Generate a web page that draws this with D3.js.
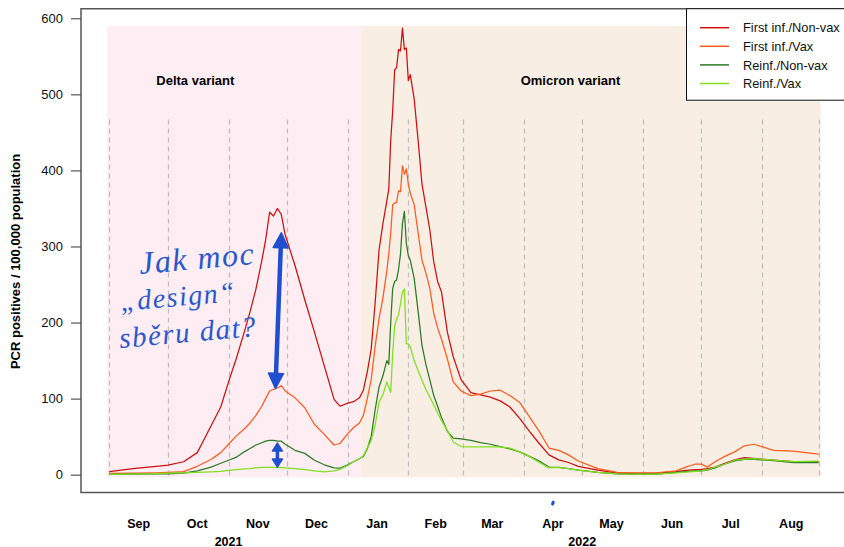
<!DOCTYPE html>
<html>
<head>
<meta charset="utf-8">
<script src="https://cdn.jsdelivr.net/npm/d3@7"></script>
<style>
  body { margin: 0; background: #fff; }
  svg { display: block; }
</style>
</head>
<body>
<svg id="chart" width="844" height="547"></svg>
<script>
// Daily PCR positives per 100,000 population, Sep 2021 – Aug 2022
const dates = [
  "2021-09-01","2021-09-13","2021-09-25","2021-10-01","2021-10-09","2021-10-16","2021-10-23","2021-10-28",
  "2021-11-01","2021-11-05","2021-11-09","2021-11-12","2021-11-15","2021-11-18","2021-11-20","2021-11-22",
  "2021-11-24","2021-11-26","2021-11-28","2021-11-30","2021-12-05","2021-12-10","2021-12-15","2021-12-20",
  "2021-12-25","2021-12-28","2022-01-01","2022-01-04","2022-01-07","2022-01-09","2022-01-11","2022-01-13",
  "2022-01-15","2022-01-17","2022-01-19","2022-01-21","2022-01-22","2022-01-23","2022-01-24","2022-01-25",
  "2022-01-26","2022-01-27","2022-01-28","2022-01-29","2022-01-30","2022-01-31","2022-02-01","2022-02-02",
  "2022-02-04","2022-02-06","2022-02-08","2022-02-10","2022-02-12","2022-02-14","2022-02-16","2022-02-18",
  "2022-02-21","2022-02-24","2022-02-28","2022-03-05","2022-03-10","2022-03-15","2022-03-20","2022-03-25",
  "2022-03-30","2022-04-04","2022-04-09","2022-04-14","2022-04-19","2022-04-24","2022-04-29","2022-05-09",
  "2022-05-19","2022-05-29","2022-06-08","2022-06-18","2022-06-23","2022-06-28","2022-07-01","2022-07-04",
  "2022-07-08","2022-07-13","2022-07-18","2022-07-23","2022-07-28","2022-08-07","2022-08-17","2022-08-30"
];

const firstNonVax = [
  4, 8, 11, 12.6, 17, 29, 64, 89, 122, 153, 187, 214, 244, 281, 309, 345, 340, 350, 342, 315,
  275, 230, 187, 143, 99, 90, 94, 96, 101, 111,
  135, 165, 225, 295, 330, 360, 375, 440, 478, 532,
  535, 559, 557, 587, 559, 561, 518, 526, 494, 440,
  382, 352, 322, 280, 254, 240, 187, 155, 125, 108,
  105, 102, 97, 89, 74, 57, 41, 26, 19.5, 16,
  11, 6, 2, 1.7, 2, 4, 5.5, 6.5, 7, 8,
  10, 15, 19.5, 22.5, 21.5, 19, 17, 17
];

const firstVax = [
  1.7, 2, 2.5, 3, 4, 11, 20, 29, 40, 51, 60, 68, 78, 90, 100, 110, 112, 114, 117, 110,
  101, 88, 66, 53, 39, 41, 54, 62, 68, 78,
  100, 125, 168, 205, 232, 268, 290, 318, 355, 357,
  358, 373, 372, 406, 395, 402, 382, 370, 355, 318,
  282, 265, 245, 212, 193, 178, 152, 122, 110, 104,
  106, 110, 111, 104, 95, 76, 57, 35, 32, 26,
  18, 8, 3, 2.5, 2.5, 5, 10, 14, 14, 10,
  17, 24, 30, 38, 40, 32, 31, 27
];

const reinfNonVax = [
  0.5, 0.8, 1, 1.2, 2, 5, 10, 15, 19, 23, 30, 34.5, 39, 42, 44, 45, 45, 44, 44, 40,
  32, 28, 19, 13, 9, 8.5, 13, 17, 21, 24,
  34, 50, 85, 115, 130, 150, 145, 200, 245, 254,
  256, 270, 290, 330, 346, 304, 288, 282, 258, 215,
  170, 145, 125, 104, 90, 75, 57, 48, 47, 45,
  42, 40, 37, 34, 30, 24, 18, 10, 9.5, 8,
  6, 3, 1, 0.8, 0.8, 3, 4, 5, 5, 6,
  9, 14, 18, 20, 20, 18.5, 16, 15.7
];

const reinfVax = [
  0.3, 0.8, 1.5, 2, 2.5, 3, 3.8, 4.5, 5.5, 6.5, 7.5, 8, 9, 9.5, 9.6, 9.6, 9.6, 9.4, 9.5, 9,
  8, 6.5, 5, 3.8, 5, 7, 12, 17, 21, 25,
  35, 45, 65, 95, 105, 122, 115, 108, 160, 195,
  205, 210, 225, 240, 244, 172, 172, 168, 150, 137,
  124, 112, 102, 92, 81, 71, 58, 43, 37, 36.6,
  36.6, 36.6, 36.6, 35, 30, 24, 16, 9, 9.6, 8,
  6, 3, 1, 0.8, 0.8, 2.5, 3.5, 4.5, 5, 6.5,
  10, 14, 19, 20.5, 21, 19, 17, 17.8
];

const seriesNames  = ["First inf./Non-vax", "First inf./Vax", "Reinf./Non-vax", "Reinf./Vax"];
const seriesColors = ["#cc1010", "#ff5a1e", "#2a7a25", "#7ee01e"];

const yTicks = [0, 100, 200, 300, 400, 500, 600];

// Variant periods shaded in the background
const variantNames  = ["Delta variant", "Omicron variant"];
const variantStarts = ["2021-08-31", "2022-01-08"];
const variantEnds   = ["2022-01-08", "2022-08-31"];
const variantLabelDates = ["2021-10-15", "2022-04-25"];
const variantFills  = ["#feedf2", "#f9eee3"];

// Month boundaries and month / year labels
const monthStarts = ["2021-09-01","2021-10-01","2021-11-01","2021-12-01","2022-01-01","2022-02-01",
                     "2022-03-01","2022-04-01","2022-05-01","2022-06-01","2022-07-01","2022-08-01","2022-08-30"];
const monthLabels = ["Sep","Oct","Nov","Dec","Jan","Feb","Mar","Apr","May","Jun","Jul","Aug"];
const monthLabelDates = ["2021-09-16","2021-10-16","2021-11-16","2021-12-16","2022-01-16","2022-02-15",
                         "2022-03-16","2022-04-16","2022-05-16","2022-06-16","2022-07-16","2022-08-16"];
const yearLabels = ["2021", "2022"];
const yearLabelDates = ["2021-11-01", "2022-05-01"];

// Handwritten note and its double-headed arrows (from one curve's peak to another's)
const noteLines = ["Jak moc", "\u201Edesign\u201C", "sběru dat?"];
const arrowTopDates    = ["2021-11-28", "2021-11-26"];
const arrowBottomDates = ["2021-11-25", "2021-11-26"];
const arrowTops    = [318, 41.5];
const arrowBottoms = [113.5, 10];

// ---------------------------------------------------------------------------
const parse = d3.utcParse("%Y-%m-%d");
const svg = d3.select("#chart");
const font = "'Liberation Sans', Arial, Helvetica, sans-serif";

const frame = { left: 81, right: 847, top: 8.7, bottom: 492.6 };

const xMin = parse(dates[0]), xMax = parse(dates[dates.length - 1]);
const xPad = (xMax - xMin) * 0.04;
const x = d3.scaleUtc()
  .domain([new Date(+xMin - xPad), new Date(+xMax + xPad)])
  .range([frame.left, frame.right]);

const yMaxData = 589;
const yPad = yMaxData * 0.04;
const y = d3.scaleLinear()
  .domain([-yPad, yMaxData + yPad])
  .range([frame.bottom, frame.top]);

// background periods
svg.append("g").selectAll("rect")
  .data(variantNames.map((n, i) => ({ n, s: parse(variantStarts[i]), e: parse(variantEnds[i]), f: variantFills[i] })))
  .join("rect")
  .attr("x", d => x(d.s))
  .attr("width", d => x(d.e) - x(d.s))
  .attr("y", y(590))
  .attr("height", y(-3.5) - y(590))
  .attr("fill", d => d.f);

// dashed month boundaries
svg.append("g").selectAll("line")
  .data(monthStarts.map(parse))
  .join("line")
  .attr("x1", d => Math.round(x(d)) + 0.5).attr("x2", d => Math.round(x(d)) + 0.5)
  .attr("y1", y(467)).attr("y2", y(-3.5))
  .attr("stroke", "#bdbdbd").attr("stroke-width", 1.2)
  .attr("stroke-dasharray", "5,4");

// variant labels
svg.append("g").selectAll("text")
  .data(variantNames.map((n, i) => ({ n, d: parse(variantLabelDates[i]) })))
  .join("text")
  .attr("x", d => x(d.d)).attr("y", 84.5)
  .attr("text-anchor", "middle")
  .attr("font-family", font).attr("font-size", 13).attr("font-weight", "bold")
  .text(d => d.n);

// series lines
const allSeries = [firstNonVax, firstVax, reinfNonVax, reinfVax];
const line = d3.line()
  .x((d, i) => x(parse(dates[i])))
  .y(d => y(d));
svg.append("g").selectAll("path")
  .data(allSeries)
  .join("path")
  .attr("d", d => line(d))
  .attr("fill", "none")
  .attr("stroke", (d, i) => seriesColors[i])
  .attr("stroke-width", 1.25)
  .attr("stroke-linejoin", "round");

// frame
svg.append("path")
  .attr("d", `M${frame.right},${frame.top}H${frame.left}V${frame.bottom}H${frame.right}`)
  .attr("fill", "none").attr("stroke", "#555").attr("stroke-width", 1.5);

// y axis
const yAxis = svg.append("g")
  .attr("transform", `translate(${frame.left},0)`)
  .call(d3.axisLeft(y).tickValues(yTicks).tickSize(10).tickSizeOuter(0).tickPadding(8));
yAxis.select(".domain").remove();
yAxis.selectAll(".tick line").attr("stroke", "#555").attr("stroke-width", 1.2);
yAxis.selectAll(".tick text")
  .attr("font-family", font).attr("font-size", 13).attr("fill", "#111");

svg.append("text")
  .attr("transform", `translate(19.5,${(y(0) + y(600)) / 2 + 15}) rotate(-90)`)
  .attr("text-anchor", "middle")
  .attr("font-family", font).attr("font-size", 13).attr("font-weight", "bold")
  .text("PCR positives / 100,000 population");

// month and year labels
svg.append("g").selectAll("text")
  .data(monthLabels.map((m, i) => ({ m, d: parse(monthLabelDates[i]) })))
  .join("text")
  .attr("x", d => x(d.d)).attr("y", 527.5)
  .attr("text-anchor", "middle")
  .attr("font-family", font).attr("font-size", 12.5).attr("font-weight", "bold")
  .text(d => d.m);
svg.append("g").selectAll("text")
  .data(yearLabels.map((m, i) => ({ m, d: parse(yearLabelDates[i]) })))
  .join("text")
  .attr("x", d => x(d.d)).attr("y", 545.5)
  .attr("text-anchor", "middle")
  .attr("font-family", font).attr("font-size", 12.5).attr("font-weight", "bold")
  .text(d => d.m);

// legend
const lg = svg.append("g");
lg.append("rect")
  .attr("x", 686.5).attr("y", 8.7).attr("width", 200).attr("height", 91.5)
  .attr("fill", "#fff").attr("stroke", "#111").attr("stroke-width", 1);
seriesNames.forEach((n, i) => {
  const ly = 27.7 + i * 18.6;
  lg.append("line")
    .attr("x1", 700).attr("x2", 729).attr("y1", ly).attr("y2", ly)
    .attr("stroke", seriesColors[i]).attr("stroke-width", 1.5);
  lg.append("text")
    .attr("x", 743).attr("y", ly + 4.6)
    .attr("font-family", font).attr("font-size", 12.8).attr("fill", "#111")
    .text(n);
});

// handwritten note
const ink = "#1f4fd0";
const note = svg.append("g")
  .attr("font-family", "'Liberation Serif', 'DejaVu Serif', serif")
  .attr("font-style", "italic").attr("fill", "#2b57cc");
const noteX = [140, 121, 120];
const noteY = [274, 311, 348];
const noteSize = [32, 28, 29];
noteLines.forEach((t, i) => {
  note.append("text")
    .attr("transform", `translate(${noteX[i]},${noteY[i]}) rotate(-5)`)
    .attr("font-size", noteSize[i])
    .attr("letter-spacing", 1.5)
    .text(t);
});

// arrows: thick shaft with a filled head at each end
function arrowPath(x1, y1, x2, y2, headLen, headHalf) {
  const dx = x2 - x1, dy = y2 - y1, L = Math.hypot(dx, dy);
  const ux = dx / L, uy = dy / L, px = -uy, py = ux;
  const head = (tx, ty, sx, sy) => {
    const bx = tx + sx * headLen, by = ty + sy * headLen;
    return `M${tx},${ty}L${bx + px * headHalf},${by + py * headHalf}` +
           `L${bx - px * headHalf},${by - py * headHalf}Z`;
  };
  return head(x1, y1, ux, uy) + head(x2, y2, -ux, -uy);
}
arrowTopDates.forEach((d, i) => {
  const big = i === 0;
  const x1 = x(parse(d)), y1 = y(arrowTops[i]);
  const x2 = x(parse(arrowBottomDates[i])), y2 = y(arrowBottoms[i]);
  const headLen = big ? 15 : 8, headHalf = big ? 7.5 : 5;
  const L = Math.hypot(x2 - x1, y2 - y1);
  const ux = (x2 - x1) / L, uy = (y2 - y1) / L;
  svg.append("line")
    .attr("x1", x1 + ux * (headLen - 2)).attr("y1", y1 + uy * (headLen - 2))
    .attr("x2", x2 - ux * (headLen - 2)).attr("y2", y2 - uy * (headLen - 2))
    .attr("stroke", ink).attr("stroke-width", big ? 4.5 : 3.5);
  svg.append("path")
    .attr("d", arrowPath(x1, y1, x2, y2, headLen, headHalf))
    .attr("fill", ink).attr("stroke", ink).attr("stroke-width", 1.5)
    .attr("stroke-linejoin", "round");
});

// small ink speck below the axis
const speckX = x(parse("2022-04-16")), speckY = frame.bottom + 10.5;
svg.append("ellipse")
  .attr("cx", speckX).attr("cy", speckY)
  .attr("rx", 1.6).attr("ry", 2.6)
  .attr("transform", `rotate(20,${speckX},${speckY})`)
  .attr("fill", ink);
</script>
</body>
</html>
